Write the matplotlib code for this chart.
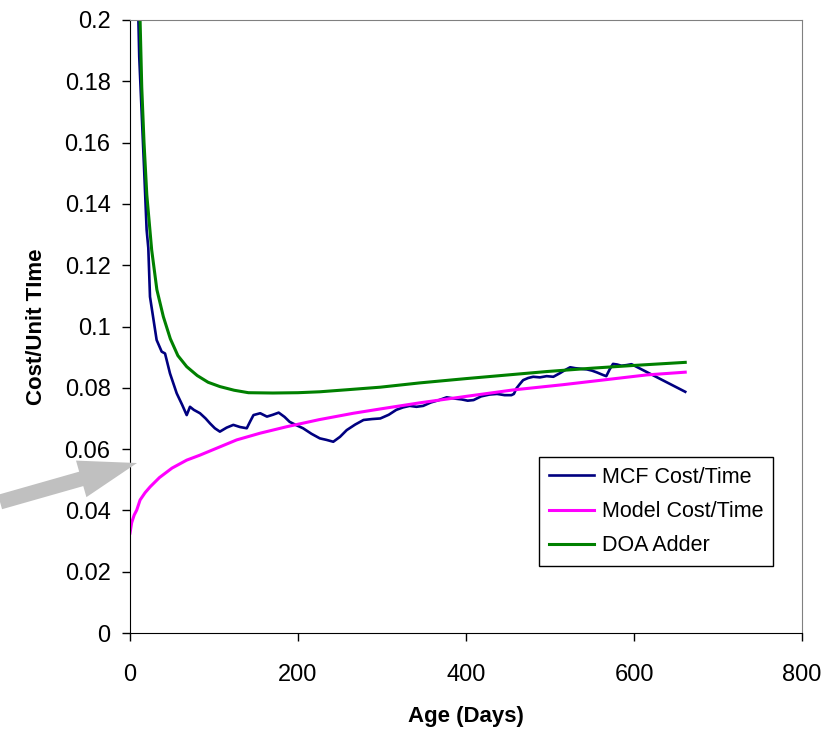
import matplotlib.pyplot as plt
from matplotlib.patches import FancyArrow
from matplotlib.transforms import IdentityTransform

plt.rcParams['font.family'] = ['Liberation Sans', 'DejaVu Sans']

# MCF cost per unit time
mcf_days = [10, 11, 16.7, 19.8, 21.8, 23.8, 31.7, 37.7, 41.7, 47.6, 55.6, 62, 67.5, 71.4,
            76, 83.3, 90, 95.2, 101, 107, 115, 123, 131, 139, 143, 147, 155, 163, 170, 177,
            184, 190, 198, 206, 216, 226, 234, 242, 250, 258, 268, 278, 288, 298, 308, 317,
            325, 333, 341, 349, 358, 368, 377, 386, 395, 402, 409, 418, 428, 437, 446, 454,
            457, 460, 464, 468, 474, 480, 488, 496, 504, 512, 518, 524, 530, 537, 544, 550,
            556, 563, 567, 571, 575, 580, 585, 591, 597, 661]
mcf_vals = [0.200, 0.188, 0.152, 0.1315, 0.1256, 0.1097, 0.0956, 0.0918, 0.0912, 0.0847, 0.0782,
            0.0745, 0.0711, 0.0738, 0.0728, 0.0717, 0.0700, 0.0684, 0.0668, 0.0657, 0.0670,
            0.0679, 0.0672, 0.0668, 0.0690, 0.0711, 0.0717, 0.0706, 0.0712, 0.0719, 0.0705,
            0.0689, 0.0678, 0.0668, 0.0650, 0.0635, 0.0630, 0.0624, 0.0640, 0.0662, 0.0680,
            0.0695, 0.0698, 0.0700, 0.0712, 0.0728, 0.0736, 0.0741, 0.0738, 0.0741, 0.0752,
            0.0760, 0.0769, 0.0765, 0.0762, 0.0758, 0.0760, 0.0772, 0.0778, 0.0780, 0.0776,
            0.0776, 0.0780, 0.0798, 0.0812, 0.0825, 0.0832, 0.0836, 0.0834, 0.0838, 0.0836,
            0.0848, 0.0858, 0.0867, 0.0864, 0.0862, 0.0860, 0.0856, 0.0850, 0.0842, 0.0838,
            0.0860, 0.0878, 0.0876, 0.0872, 0.0874, 0.0877, 0.0787]

# Model cost per unit time
model_days = [0, 2, 5, 8, 12, 18, 24, 35, 50, 67.5, 83, 105, 127, 155, 186.5, 225, 266,
              298, 345, 400, 456, 515, 565, 615, 661]
model_vals = [0.0326, 0.0360, 0.0385, 0.0401, 0.0434, 0.0458, 0.0477, 0.0507, 0.0538, 0.0564,
              0.0580, 0.0605, 0.0630, 0.0652, 0.0673, 0.0696, 0.0717, 0.0731, 0.0751, 0.0772,
              0.0793, 0.0810, 0.0826, 0.0842, 0.0851]

# DOA adder
doa_days = [12, 14, 16.7, 20, 25.8, 32, 39.7, 48, 57, 67.5, 80, 93, 107, 124, 141, 170,
            200, 226, 260, 298, 345, 400, 450, 496, 550, 600, 661]
doa_vals = [0.200, 0.178, 0.160, 0.143, 0.125, 0.112, 0.1032, 0.0960, 0.0905, 0.0869,
            0.0840, 0.0818, 0.0804, 0.0792, 0.0784, 0.0783, 0.0784, 0.0787, 0.0794, 0.0802,
            0.0816, 0.0830, 0.0842, 0.0853, 0.0864, 0.0873, 0.0883]

fig = plt.figure(figsize=(8.36, 7.33), dpi=100)
ax = fig.add_axes([130 / 836, 100 / 733, 672 / 836, 613 / 733])

ax.plot(mcf_days, mcf_vals, color='#000080', lw=1.9, label='MCF Cost/Time')
ax.plot(model_days, model_vals, color='#FF00FF', lw=2.2, label='Model Cost/Time')
ax.plot(doa_days, doa_vals, color='#008000', lw=2.2, label='DOA Adder')

ax.set_xlim(0, 800)
ax.set_ylim(0, 0.2)
ax.set_xticks([0, 200, 400, 600, 800])
ax.set_yticks([0, 0.02, 0.04, 0.06, 0.08, 0.1, 0.12, 0.14, 0.16, 0.18, 0.2])
ax.set_yticklabels(['0', '0.02', '0.04', '0.06', '0.08', '0.1', '0.12', '0.14', '0.16', '0.18', '0.2'])
ax.tick_params(labelsize=17, length=6, width=1, direction='out')
ax.tick_params(axis='y', pad=8)
ax.tick_params(axis='x', pad=16)
for s in ['top', 'right']:
    ax.spines[s].set_color('#808080')
for s in ['left', 'bottom']:
    ax.spines[s].set_color('black')

ax.set_xlabel('Age (Days)', fontsize=16, fontweight='bold', labelpad=15)
ax.set_ylabel('Cost/Unit TIme', fontsize=16, fontweight='bold', labelpad=13)

leg = ax.legend(loc='upper left', bbox_to_anchor=(0.609, 0.287), borderaxespad=0,
                fontsize=15.5, fancybox=False, framealpha=1, edgecolor='black',
                handlelength=2.1, handletextpad=0.35, labelspacing=0.62, borderpad=0.45)
leg.get_frame().set_linewidth(1)

# grey arrow pointing at the axis
arrow = FancyArrow(0, 231, 137, 39, width=15, head_width=38, head_length=58,
                   length_includes_head=True, color='#C0C0C0', lw=0,
                   transform=IdentityTransform())
fig.add_artist(arrow)

fig.savefig('out.png', dpi=100)
